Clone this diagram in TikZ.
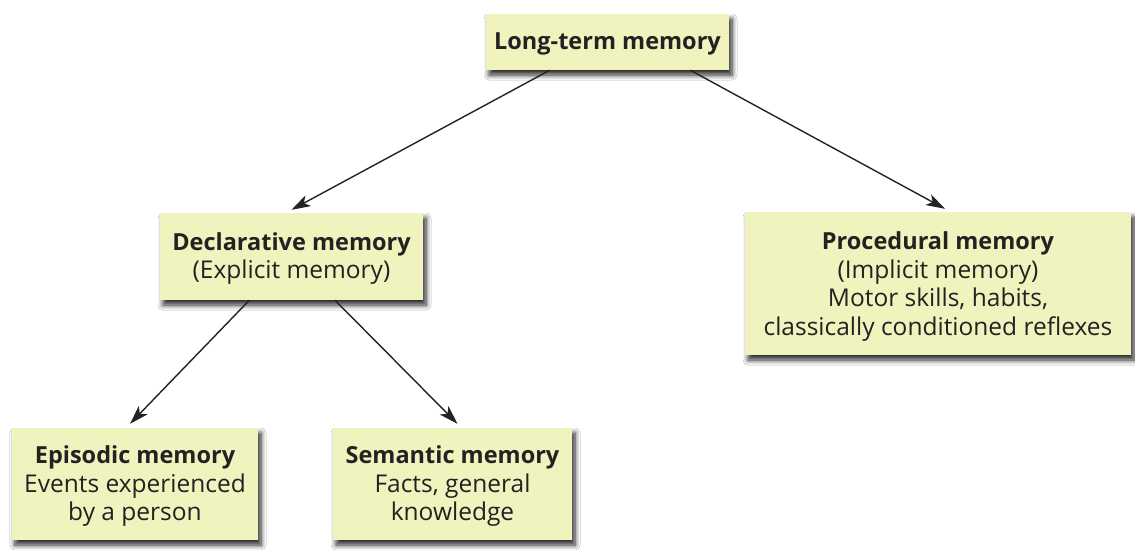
\documentclass[tikz,border=0pt]{standalone}
\usepackage{fontspec}
\setmainfont{Open Sans}
\usetikzlibrary{calc,arrows.meta,shadows.blur}
\definecolor{boxfill}{RGB}{241,243,190}
\definecolor{inktext}{RGB}{34,34,34}
\definecolor{inkline}{RGB}{35,35,35}
\newcommand{\headline}[1]{{\fontsize{23.5}{28.5}\selectfont\bfseries #1}}
\tikzset{
  membox/.style={fill=boxfill, draw=none, inner sep=0pt,
    blur shadow={shadow xshift=3pt, shadow yshift=-5pt, shadow blur radius=5pt,
      shadow blur steps=8, shadow opacity=85}},
  memtext/.style={align=center, inner sep=0pt, text=inktext,
    font=\fontsize{24.5}{28.5}\selectfont},
  link/.style={draw=inkline, line width=1.4pt, -{Stealth[length=19pt,width=12pt,inset=5pt]}}
}
\begin{document}
\begin{tikzpicture}[x=1pt,y=-1pt]
\useasboundingbox (0,0) rectangle (1135,550);
\fill[white] (0,0) rectangle (1135,550);

% boxes
\node[membox, minimum width=243pt, minimum height=56pt] (ltm) at (607.5,42) {};
\node[membox, minimum width=263pt, minimum height=87pt] (decl) at (291.5,256.5) {};
\node[membox, minimum width=386pt, minimum height=143pt] (proc) at (938,283.5) {};
\node[membox, minimum width=246pt, minimum height=112pt] (epi) at (135,484) {};
\node[membox, minimum width=239pt, minimum height=112pt] (sem) at (452.5,484) {};

% labels
\node[memtext] (ltmtext) at ([yshift=-2pt]ltm.center) {\headline{Long-term memory}};
\node[memtext] (decltext) at ([yshift=-2pt]decl.center)
  {\headline{Declarative memory}\\(Explicit memory)};
\node[memtext] (proctext) at ([yshift=-3pt]proc.center)
  {\headline{Procedural memory}\\(Implicit memory)\\Motor skills, habits,\\classically conditioned reflexes};
\node[memtext] (epitext) at ([yshift=-2.5pt]epi.center)
  {\headline{Episodic memory}\\Events experienced\\by a person};
\node[memtext] (semtext) at ([yshift=-2.5pt]sem.center)
  {\headline{Semantic memory}\\Facts, general\\knowledge};

% connectors
\draw[link] ($(ltm.south west)!0.263!(ltm.south east)$) -- ([yshift=3pt]decl.north);
\draw[link] ($(ltm.south west)!0.84!(ltm.south east)$) -- ([xshift=7pt,yshift=3pt]proc.north);
\draw[link] ($(decl.south west)!0.34!(decl.south east)$) -- ([xshift=-5pt,yshift=4pt]epi.north);
\draw[link] ($(decl.south west)!0.665!(decl.south east)$) -- ([xshift=5pt,yshift=4pt]sem.north);
\end{tikzpicture}
\end{document}
